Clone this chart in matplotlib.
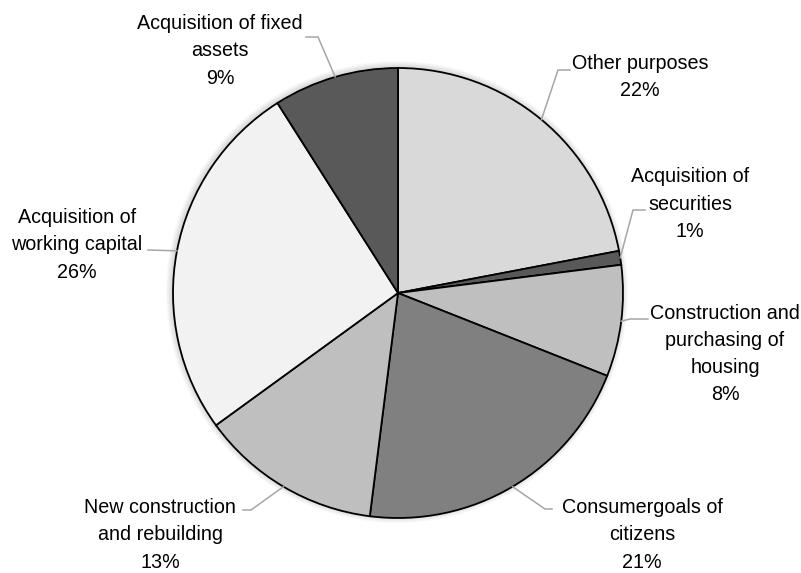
import matplotlib.pyplot as plt
import numpy as np

# Data
categories = ["Other purposes", "Acquisition of\nsecurities", "Construction and\npurchasing of\nhousing",
              "Consumergoals of\ncitizens", "New construction\nand rebuilding", "Acquisition of\nworking capital",
              "Acquisition of fixed\nassets"]
shares = [22, 1, 8, 21, 13, 26, 9]
colors = ["#d9d9d9", "#595959", "#bfbfbf", "#808080", "#bfbfbf", "#f2f2f2", "#595959"]

# Label layout in pixels (from top-left): text centre, elbow, end of horizontal leader
text_pos = [(640, 77), (690, 204), (725, 354), (642, 535), (160, 535), (77, 245), (220, 51)]
elbows = [(558, 70), (633, 210), (630, 319), (545, 509), (251, 510), (None, 250), (318, 37)]
ends = [(570, 70), (645, 210), (648, 319), (552, 509), (243, 510), (148, 250), (306, 37)]

W, H = 801, 573
cx, cy, R = 398, H - 293, 225

plt.rcParams["font.family"] = ["Liberation Sans Narrow", "Liberation Sans", "DejaVu Sans"]

fig = plt.figure(figsize=(W / 100, H / 100), dpi=100)
ax = fig.add_axes([0, 0, 1, 1])

# soft shadow around the pie
for k in range(1, 7):
    ax.add_patch(plt.Circle((cx - 1, cy + 1), R + k, color="black", alpha=0.025, lw=0, zorder=0))

wedges, _ = ax.pie(shares, colors=colors, startangle=90, counterclock=False,
                   center=(cx, cy), radius=R, frame=True,
                   wedgeprops=dict(edgecolor="black", linewidth=1.3))
ax.set_xlim(0, W)
ax.set_ylim(0, H)
ax.set_aspect("equal")
ax.axis("off")

total = sum(shares)
start = 90
for i, (name, val) in enumerate(zip(categories, shares)):
    mid = np.deg2rad(start - val / total * 360 / 2)
    start -= val / total * 360
    px, py = cx + R * np.cos(mid), cy + R * np.sin(mid)
    ex, ey = elbows[i]
    hx, hy = ends[i]
    if ex is None:
        xs, ys = [px, hx], [py, H - hy]
    else:
        xs, ys = [px, ex, hx], [py, H - ey, H - hy]
    ax.plot(xs, ys, color="#a6a6a6", lw=1.1, zorder=5)
    tx, ty = text_pos[i]
    ax.text(tx, H - ty, f"{name}\n{val}%", ha="center", va="center", fontsize=14.2,
            color="black", linespacing=1.55)

fig.savefig("out.png", dpi=100)
